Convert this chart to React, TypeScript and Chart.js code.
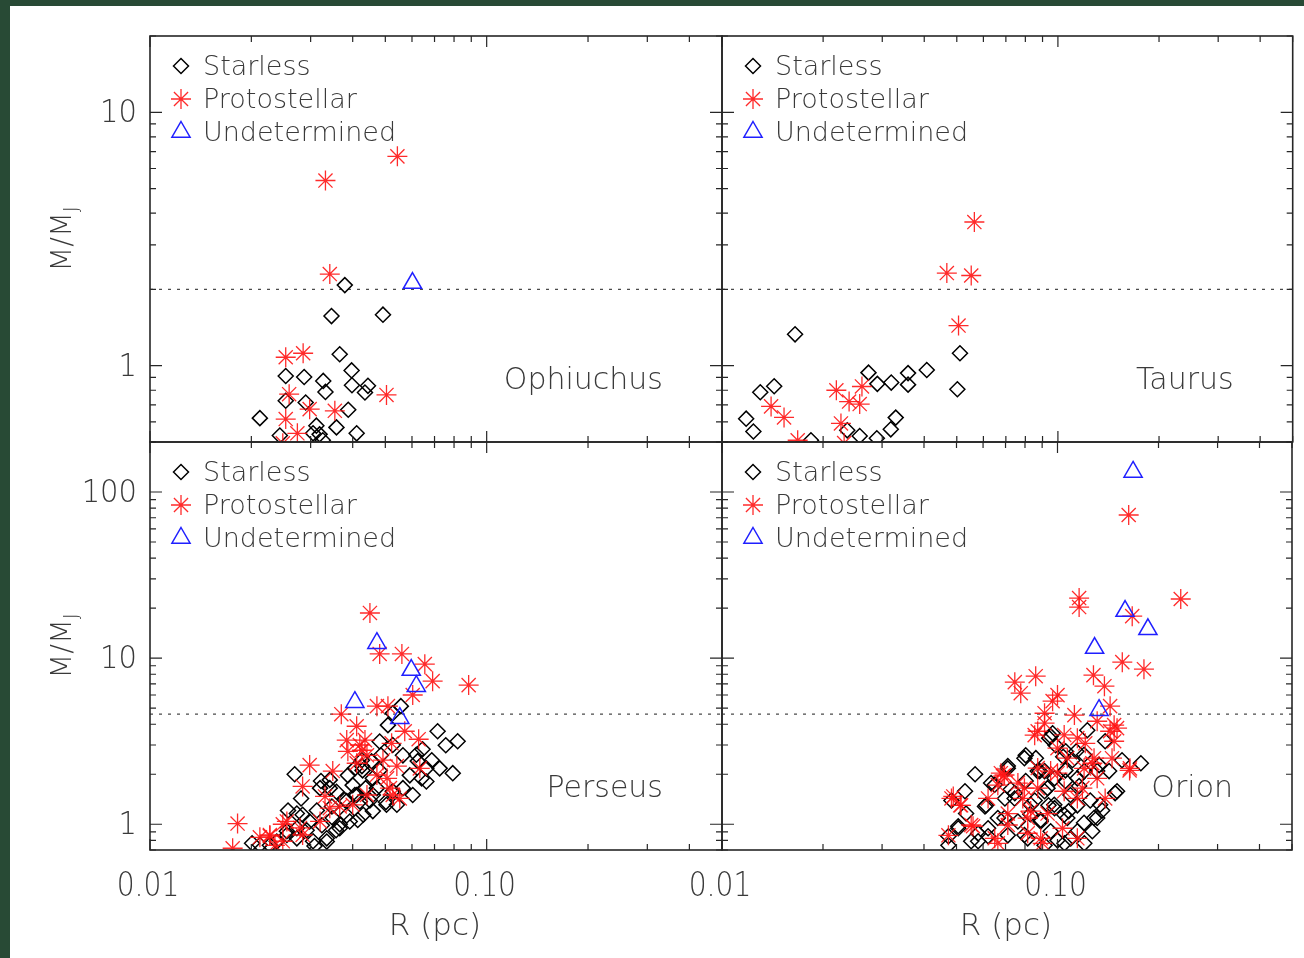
import React, { useEffect, useRef } from 'react';
import { Chart, registerables } from 'chart.js';

Chart.register(...registerables);

// ---- axes ----
const R_MIN = 0.01;
const R_MAX = 0.5;
const TOP_M_MIN = 0.5;
const TOP_M_MAX = 20;
const BOTTOM_M_MIN = 0.7;
const BOTTOM_M_MAX = 200;
const X_TICK_VALUES = [0.01, 0.1];
const X_TICK_LABELS = ['0.01', '0.10'];
const TOP_Y_TICK_VALUES = [1, 10];
const TOP_Y_TICK_LABELS = ['1', '10'];
const BOTTOM_Y_TICK_VALUES = [1, 10, 100];
const BOTTOM_Y_TICK_LABELS = ['1', '10', '100'];
const TOP_THRESHOLD = 2;
const BOTTOM_THRESHOLD = 4.6;
const CLASS_NAMES = ['Starless', 'Protostellar', 'Undetermined'];
const X_TITLE = 'R (pc)';

// ---- Ophiuchus ----
const ophStarlessR = [0.0379, 0.0346, 0.0492, 0.0366, 0.0397, 0.0253, 0.0287, 0.0327, 0.0332, 0.0398, 0.0444, 0.0435, 0.0253, 0.029, 0.0388, 0.0212, 0.0358, 0.0312, 0.0305, 0.0411, 0.0243, 0.0319, 0.0326];
const ophStarlessM = [2.08, 1.57, 1.59, 1.11, 0.958, 0.911, 0.903, 0.871, 0.788, 0.837, 0.833, 0.784, 0.727, 0.716, 0.67, 0.621, 0.571, 0.58, 0.541, 0.541, 0.53, 0.536, 0.508];
const ophProtoR = [0.0543, 0.0332, 0.0342, 0.0253, 0.0285, 0.0259, 0.0504, 0.0298, 0.0354, 0.0253, 0.0274, 0.0248];
const ophProtoM = [6.7, 5.38, 2.3, 1.08, 1.12, 0.772, 0.767, 0.674, 0.664, 0.616, 0.541, 0.494];
const ophUndetR = [0.0602];
const ophUndetM = [2.12];

// ---- Taurus ----
const tauStarlessR = [0.0165, 0.0511, 0.0407, 0.0273, 0.0358, 0.029, 0.0319, 0.0358, 0.0143, 0.013, 0.0502, 0.0118, 0.0329, 0.0124, 0.0236, 0.0318, 0.0257, 0.0289, 0.0184];
const tauStarlessM = [1.33, 1.12, 0.962, 0.939, 0.935, 0.848, 0.858, 0.842, 0.83, 0.786, 0.807, 0.618, 0.624, 0.55, 0.556, 0.561, 0.528, 0.517, 0.508];
const tauProtoR = [0.0564, 0.0467, 0.0552, 0.0506, 0.0219, 0.0261, 0.0239, 0.0257, 0.014, 0.0153, 0.0226, 0.0168, 0.0231];
const tauProtoM = [3.69, 2.32, 2.27, 1.44, 0.8, 0.828, 0.722, 0.706, 0.691, 0.625, 0.592, 0.508, 0.495];
const tauUndetR: number[] = [];
const tauUndetM: number[] = [];

// ---- Perseus ----
const perStarlessR = [0.0556, 0.0526, 0.0509, 0.0715, 0.082, 0.0756, 0.0645, 0.0485, 0.0564, 0.0687, 0.0426, 0.0624, 0.0793, 0.0641, 0.0591, 0.0269, 0.0322, 0.0342, 0.0387, 0.0426, 0.0526, 0.0472, 0.0281, 0.0257, 0.0273, 0.0313, 0.0347, 0.0411, 0.0384, 0.045, 0.0414, 0.0459, 0.0292, 0.0324, 0.0349, 0.0357, 0.0255, 0.0201, 0.0227, 0.0273, 0.0305, 0.0335, 0.0384, 0.0428, 0.0481, 0.04, 0.0459, 0.0437, 0.0406, 0.0502, 0.0366, 0.0308,
  0.0342, 0.032, 0.0358, 0.0379, 0.042, 0.0459, 0.0504, 0.043, 0.0392, 0.0366, 0.0335, 0.0298, 0.0284, 0.0273, 0.0255, 0.0238, 0.0212, 0.0564, 0.0541, 0.0603, 0.0662, 0.0662, 0.0618, 0.0725, 0.0481, 0.0455, 0.0406, 0.0526];
const perStarlessM = [5.14, 4.66, 3.95, 3.63, 3.16, 2.99, 2.83, 2.6, 2.6, 2.43, 2.43, 2.4, 2.03, 1.89, 1.97, 2.0, 1.82, 1.65, 1.97, 2.24, 1.58, 1.65, 1.43, 1.21, 1.16, 1.21, 1.28, 1.5, 1.38, 1.39, 1.06, 1.2, 0.92, 0.986, 1.09, 0.92, 0.907, 0.768, 0.747, 0.823, 0.79, 0.823, 1.13, 2.11, 2.11, 1.72, 1.89, 1.65, 1.5, 1.36, 1.0, 0.74,
  1.85, 1.65, 1.57, 1.4, 1.37, 1.5, 1.31, 1.14, 1.04, 0.946, 0.787, 1.04, 1.14, 0.946, 0.862, 0.787, 0.75, 1.65, 1.31, 1.5, 1.81, 2.17, 2.62, 2.17, 3.15, 2.39, 2.17, 3.0];
const perProtoR = [0.045, 0.0481, 0.056, 0.0655, 0.0691, 0.0884, 0.0603, 0.0472, 0.0509, 0.037, 0.0411, 0.0571, 0.0628, 0.0384, 0.0387, 0.0426, 0.0441, 0.0298, 0.0349, 0.0284, 0.0331, 0.0541, 0.0492, 0.0526, 0.0366, 0.0248, 0.0182, 0.0212, 0.0235, 0.0176, 0.0435, 0.0522, 0.0411, 0.0506, 0.0227, 0.0248, 0.0279,
  0.0342, 0.04, 0.032, 0.0441, 0.0516, 0.0552, 0.0633, 0.0472, 0.0284, 0.0255, 0.0227, 0.042];
const perProtoM = [18.7, 10.6, 10.6, 9.2, 7.27, 6.88, 6.0, 5.14, 5.14, 4.6, 3.89, 3.63, 3.25, 3.21, 2.75, 2.79, 2.6, 2.27, 2.09, 1.69, 1.47, 2.24, 2.43, 1.5, 1.28, 1.0, 1.01, 0.835, 0.747, 0.717, 3.21, 3.07, 2.33, 1.89, 0.85, 0.79, 0.95,
  1.25, 1.31, 1.04, 1.5, 1.65, 1.43, 2.17, 1.98, 0.862, 1.04, 0.862, 3.0];
const perUndetR = [0.0472, 0.0597, 0.0618, 0.0406, 0.0552];
const perUndetM = [12.3, 8.47, 6.78, 5.43, 4.35];

// ---- Orion ----
const oriStarlessR = [0.1227, 0.0954, 0.0987, 0.1387, 0.1138, 0.0804, 0.1108, 0.1557, 0.1772, 0.1331, 0.0711, 0.0885, 0.098, 0.1056, 0.1202, 0.1425, 0.0568, 0.0634, 0.0804, 0.1505, 0.0746, 0.0915, 0.1056, 0.1093, 0.0608, 0.0697, 0.0855, 0.098, 0.1146, 0.1252, 0.1359, 0.1313, 0.127, 0.0534, 0.0664, 0.0762, 0.0891, 0.107, 0.0506, 0.0621, 0.0711, 0.0815, 0.0954, 0.1146, 0.0473, 0.0553, 0.1049, 0.1202, 0.0915, 0.1485, 0.0967, 0.0862, 0.104, 0.116, 0.0725, 0.094, 0.108, 0.083, 0.058, 0.1, 0.12,
  0.053, 0.0483, 0.0612, 0.0506, 0.0473, 0.065, 0.0711, 0.0797, 0.0873, 0.0934, 0.0978, 0.1047, 0.1146, 0.12, 0.1313, 0.134, 0.1285, 0.1095, 0.0891, 0.0797, 0.0695, 0.0621, 0.058, 0.0745, 0.0832, 0.0915, 0.0945, 0.1058];
const oriStarlessM = [3.68, 3.39, 2.99, 3.16, 2.75, 2.6, 2.43, 2.43, 2.33, 2.27, 2.24, 2.09, 1.89, 2.11, 2.09, 2.09, 2.0, 1.77, 1.82, 1.58, 1.54, 1.58, 1.82, 1.5, 1.28, 1.43, 1.39, 1.25, 1.3, 1.39, 1.21, 1.09, 0.907, 1.16, 1.09, 1.04, 1.06, 1.09, 0.946, 0.847, 0.858, 0.823, 0.907, 0.907, 0.747, 0.79, 0.768, 0.768, 0.747, 1.54, 3.53, 2.5, 2.55, 1.7, 1.62, 1.3, 1.2, 1.15, 0.88, 0.8, 1.02,
  1.58, 1.39, 1.3, 0.973, 0.847, 1.73, 2.17, 2.5, 2.09, 1.65, 1.31, 1.14, 1.89, 2.62, 2.09, 1.31, 1.09, 0.823, 1.04, 0.862, 1.09, 0.946, 0.79, 1.43, 1.31, 2.09, 3.3, 2.75];
const oriProtoR = [0.163, 0.116, 0.116, 0.233, 0.167, 0.156, 0.181, 0.128, 0.138, 0.0746, 0.0861, 0.0777, 0.1, 0.0967, 0.1435, 0.0915, 0.1123, 0.0915, 0.1475, 0.1435, 0.0855, 0.121, 0.1475, 0.164, 0.0678, 0.0489, 0.0513, 0.0815, 0.056, 0.0473, 0.0688, 0.0788, 0.0873, 0.1, 0.107, 0.1186, 0.0934, 0.0815, 0.1035, 0.0711, 0.0621, 0.1146, 0.1313, 0.1454, 0.0664, 0.0903, 0.0762, 0.127, 0.1387, 0.0873,
  0.0483, 0.0516, 0.0695, 0.0664, 0.0797, 0.0832, 0.0711, 0.0954, 0.1047, 0.1146, 0.12, 0.1285, 0.0891, 0.065, 0.0553, 0.1, 0.1146, 0.1047, 0.1505, 0.1313, 0.0873, 0.1644];
const oriProtoM = [72.7, 23.0, 20.3, 22.7, 17.9, 9.46, 8.58, 7.9, 6.78, 7.17, 7.79, 6.15, 5.99, 5.51, 5.14, 4.66, 4.54, 4.06, 3.95, 3.63, 3.44, 3.07, 3.16, 2.11, 2.03, 1.47, 1.3, 1.09, 0.973, 0.858, 1.95, 1.43, 1.65, 2.03, 2.5, 1.65, 1.16, 0.883, 0.946, 1.16, 1.43, 0.823, 1.89, 2.5, 0.768, 0.768, 1.77, 2.33, 1.43, 2.18,
  1.43, 1.3, 1.98, 1.72, 1.65, 1.2, 0.99, 2.09, 1.58, 1.43, 2.17, 2.5, 0.823, 0.823, 0.99, 2.87, 3.3, 3.45, 3.79, 4.17, 3.63, 2.17];
const oriUndetR = [0.168, 0.159, 0.186, 0.129, 0.133];
const oriUndetM = [132, 19.2, 14.9, 11.5, 4.86];

// ---- styling ----
const FONT = '"DejaVu Sans", "Noto Sans", sans-serif';
const FONT_WEIGHT = 200;
const TEXT_COLOR = '#3a3a3a';
const FRAME_COLOR = '#262626';
const STARLESS_COLOR = '#000000';
const PROTO_COLOR = 'rgba(255, 20, 20, 0.9)';
const UNDET_COLOR = '#1f1fff';
const DIAMOND_R = 7.5;
const STAR_R = 10;
const TRIANGLE_R = 10.5;

type PanelDef = {
  name: string;
  row: number;
  col: number;
  series: [number[], number[]][];
};

const PANELS: PanelDef[] = [
  { name: 'Ophiuchus', row: 0, col: 0, series: [[ophStarlessR, ophStarlessM], [ophProtoR, ophProtoM], [ophUndetR, ophUndetM]] },
  { name: 'Taurus', row: 0, col: 1, series: [[tauStarlessR, tauStarlessM], [tauProtoR, tauProtoM], [tauUndetR, tauUndetM]] },
  { name: 'Perseus', row: 1, col: 0, series: [[perStarlessR, perStarlessM], [perProtoR, perProtoM], [perUndetR, perUndetM]] },
  { name: 'Orion', row: 1, col: 1, series: [[oriStarlessR, oriStarlessM], [oriProtoR, oriProtoM], [oriUndetR, oriUndetM]] },
];

// canvas boxes: column / row geometry on the page
const COLS = [
  { left: 0, width: 740, padL: 150, padR: 18 },
  { left: 660, width: 644, padL: 62, padR: 9 },
];
const ROWS = [
  { top: 0, height: 460, padT: 36, padB: 18 },
  { top: 424, height: 534, padT: 18, padB: 108 },
];

function logTicks(min: number, max: number) {
  const out: { v: number; major: boolean }[] = [];
  for (let e = Math.floor(Math.log10(min)); e <= Math.ceil(Math.log10(max)); e++) {
    const d = Math.pow(10, e);
    for (let m = 1; m <= 9; m++) {
      const v = m * d;
      if (v >= min * 0.9999 && v <= max * 1.0001) out.push({ v, major: m === 1 });
    }
  }
  return out;
}

function drawText(ctx: CanvasRenderingContext2D, s: string, x: number, y: number, size: number, align: CanvasTextAlign, sx = 1, sy = 1) {
  ctx.save();
  ctx.translate(x, y);
  ctx.scale(sx, sy);
  ctx.font = `${FONT_WEIGHT} ${size}px ${FONT}`;
  ctx.textAlign = align;
  ctx.textBaseline = 'middle';
  ctx.fillStyle = TEXT_COLOR;
  ctx.fillText(s, 0, 0);
  ctx.restore();
}

function symbol(ctx: CanvasRenderingContext2D, kind: number, x: number, y: number) {
  ctx.save();
  ctx.beginPath();
  if (kind === 0) {
    const r = DIAMOND_R;
    ctx.moveTo(x - r, y);
    ctx.lineTo(x, y - r);
    ctx.lineTo(x + r, y);
    ctx.lineTo(x, y + r);
    ctx.closePath();
    ctx.strokeStyle = STARLESS_COLOR;
    ctx.lineWidth = 1.5;
  } else if (kind === 1) {
    const r = STAR_R;
    const d = r * Math.SQRT1_2;
    ctx.moveTo(x - r, y); ctx.lineTo(x + r, y);
    ctx.moveTo(x, y - r); ctx.lineTo(x, y + r);
    ctx.moveTo(x - d, y - d); ctx.lineTo(x + d, y + d);
    ctx.moveTo(x - d, y + d); ctx.lineTo(x + d, y - d);
    ctx.strokeStyle = PROTO_COLOR;
    ctx.lineWidth = 1.3;
  } else {
    const r = TRIANGLE_R;
    ctx.moveTo(x, y - r);
    ctx.lineTo(x + r * 0.866, y + r * 0.5);
    ctx.lineTo(x - r * 0.866, y + r * 0.5);
    ctx.closePath();
    ctx.strokeStyle = UNDET_COLOR;
    ctx.lineWidth = 1.5;
  }
  ctx.stroke();
  ctx.restore();
}

const decorPlugin = {
  id: 'panelDecor',
  beforeDatasetsDraw(chart: any, _args: any, opts: any) {
    const { ctx, chartArea: a, scales } = chart;
    const p = PANELS[opts.panel];
    const thr = p.row === 0 ? TOP_THRESHOLD : BOTTOM_THRESHOLD;
    const y = scales.y.getPixelForValue(thr);
    ctx.save();
    ctx.setLineDash([3, 6]);
    ctx.strokeStyle = '#4a4a4a';
    ctx.lineWidth = 1.4;
    ctx.beginPath();
    ctx.moveTo(a.left, y);
    ctx.lineTo(a.right, y);
    ctx.stroke();
    ctx.restore();
  },
  afterDatasetsDraw(chart: any, _args: any, opts: any) {
    const { ctx, chartArea: a, scales } = chart;
    const p = PANELS[opts.panel];
    const xs = scales.x;
    const ys = scales.y;
    const yMin = p.row === 0 ? TOP_M_MIN : BOTTOM_M_MIN;
    const yMax = p.row === 0 ? TOP_M_MAX : BOTTOM_M_MAX;

    ctx.save();
    // frame
    ctx.strokeStyle = FRAME_COLOR;
    ctx.lineWidth = 1.6;
    ctx.strokeRect(a.left, a.top, a.right - a.left, a.bottom - a.top);

    // inward ticks on all four sides
    ctx.lineWidth = 1.2;
    ctx.beginPath();
    for (const t of logTicks(R_MIN, R_MAX)) {
      const x = xs.getPixelForValue(t.v);
      const len = t.major ? 11 : 6;
      ctx.moveTo(x, a.bottom); ctx.lineTo(x, a.bottom - len);
      ctx.moveTo(x, a.top); ctx.lineTo(x, a.top + len);
    }
    for (const t of logTicks(yMin, yMax)) {
      const y = ys.getPixelForValue(t.v);
      const len = t.major ? 12 : 6;
      ctx.moveTo(a.left, y); ctx.lineTo(a.left + len, y);
      ctx.moveTo(a.right, y); ctx.lineTo(a.right - len, y);
    }
    ctx.stroke();
    ctx.restore();

    // legend
    const lx = a.left + 31;
    for (let i = 0; i < 3; i++) {
      const ly = a.top + 30 + 33 * i;
      symbol(ctx, i, lx, ly);
      drawText(ctx, CLASS_NAMES[i], a.left + 53, ly + 2, 27, 'left');
    }

    // region name
    drawText(ctx, p.name, a.right - 59, a.bottom - 61, 30, 'right');

    // y tick labels and title on the left column
    if (p.col === 0) {
      const vals = p.row === 0 ? TOP_Y_TICK_VALUES : BOTTOM_Y_TICK_VALUES;
      const labs = p.row === 0 ? TOP_Y_TICK_LABELS : BOTTOM_Y_TICK_LABELS;
      vals.forEach((v, i) => {
        drawText(ctx, labs[i], a.left - 13, ys.getPixelForValue(v) + 2, 29, 'right', 1, 1.08);
      });
      // M/M_J rotated
      const cy = (a.top + a.bottom) / 2;
      ctx.save();
      ctx.translate(63, cy);
      ctx.rotate(-Math.PI / 2);
      ctx.font = `${FONT_WEIGHT} 29px ${FONT}`;
      const w1 = ctx.measureText('M/M').width;
      ctx.font = `${FONT_WEIGHT} 19px ${FONT}`;
      const w2 = ctx.measureText('J').width;
      const x0 = -(w1 + w2) / 2;
      ctx.fillStyle = TEXT_COLOR;
      ctx.textBaseline = 'middle';
      ctx.textAlign = 'left';
      ctx.font = `${FONT_WEIGHT} 29px ${FONT}`;
      ctx.fillText('M/M', x0, 0);
      ctx.font = `${FONT_WEIGHT} 19px ${FONT}`;
      ctx.fillText('J', x0 + w1, 9);
      ctx.restore();
    }

    // x tick labels and title on the bottom row
    if (p.row === 1) {
      X_TICK_VALUES.forEach((v, i) => {
        drawText(ctx, X_TICK_LABELS[i], xs.getPixelForValue(v) - 2, a.bottom + 37, 32, 'center', 0.88, 1.08);
      });
      drawText(ctx, X_TITLE, (a.left + a.right) / 2 - 1, a.bottom + 77, 31, 'center');
    }
  },
};

function Panel({ index }: { index: number }) {
  const ref = useRef<HTMLCanvasElement>(null);
  const p = PANELS[index];
  const c = COLS[p.col];
  const r = ROWS[p.row];

  useEffect(() => {
    const pts = (s: [number[], number[]]) => s[0].map((x, i) => ({ x, y: s[1][i] }));
    const chart = new Chart(ref.current!, {
      type: 'scatter',
      data: {
        datasets: [
          {
            label: CLASS_NAMES[0],
            data: pts(p.series[0]),
            pointStyle: 'rectRot',
            pointRadius: DIAMOND_R,
            pointBorderColor: STARLESS_COLOR,
            pointBackgroundColor: 'rgba(0,0,0,0)',
            pointBorderWidth: 1.5,
            clip: 0,
            order: 3,
          },
          {
            label: CLASS_NAMES[1],
            data: pts(p.series[1]),
            pointStyle: 'star',
            pointRadius: STAR_R,
            pointBorderColor: PROTO_COLOR,
            pointBackgroundColor: 'rgba(0,0,0,0)',
            pointBorderWidth: 1.3,
            clip: 0,
            order: 2,
          },
          {
            label: CLASS_NAMES[2],
            data: pts(p.series[2]),
            pointStyle: 'triangle',
            pointRadius: TRIANGLE_R,
            pointBorderColor: UNDET_COLOR,
            pointBackgroundColor: 'rgba(0,0,0,0)',
            pointBorderWidth: 1.5,
            clip: 0,
            order: 1,
          },
        ] as any,
      },
      options: {
        responsive: false,
        animation: false,
        devicePixelRatio: 1,
        events: [],
        layout: { padding: { left: c.padL, right: c.padR, top: r.padT, bottom: r.padB } },
        scales: {
          x: { type: 'logarithmic', min: R_MIN, max: R_MAX, display: false },
          y: { type: 'logarithmic', min: p.row === 0 ? TOP_M_MIN : BOTTOM_M_MIN, max: p.row === 0 ? TOP_M_MAX : BOTTOM_M_MAX, display: false },
        },
        plugins: {
          legend: { display: false },
          tooltip: { enabled: false },
          panelDecor: { panel: index },
        } as any,
      },
      plugins: [decorPlugin as any],
    });
    return () => chart.destroy();
  }, []);

  return (
    <canvas
      ref={ref}
      width={c.width}
      height={r.height}
      style={{ position: 'absolute', left: c.left, top: r.top, width: c.width, height: r.height }}
    />
  );
}

export default function App() {
  return (
    <div style={{ position: 'fixed', left: 0, top: 0, width: 1304, height: 958, background: '#284a35', overflow: 'hidden' }}>
      <div style={{ position: 'absolute', left: 10, top: 6, right: 0, bottom: 0, background: '#ffffff' }} />
      {PANELS.map((_, i) => (
        <Panel key={i} index={i} />
      ))}
    </div>
  );
}
